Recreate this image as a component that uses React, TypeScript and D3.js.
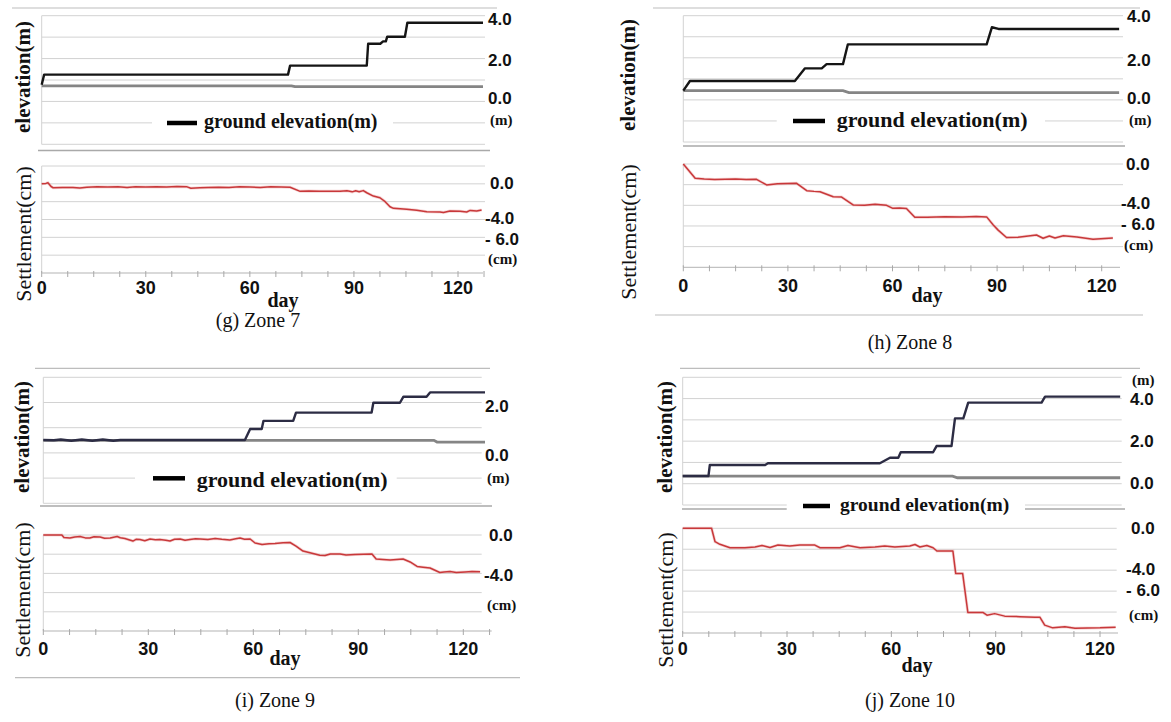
import React from "react";
import * as d3 from "d3";

type Pt = [number, number];
type Lab = [string, number];

const dayTickLabels = [0, 30, 60, 90, 120];
const legendText = "ground elevation(m)";

// ---------- Zone 7 ----------
const zone7Fill: Pt[] = [[0, 0.78], [0.7, 1.25], [71, 1.25], [71.6, 1.67], [93.7, 1.67], [94.1, 2.69], [97.6, 2.69], [98.4, 2.8], [99.2, 2.8], [99.6, 3.02], [104.7, 3.02], [105.4, 3.67], [127.2, 3.67]];
const zone7Ground: Pt[] = [[0, 0.73], [72, 0.73], [73, 0.69], [127.2, 0.69]];
const zone7Settlement: Pt[] = [[0, 0], [1.2, 0.05], [1.8, 0.12], [2.7, -0.3], [3.3, -0.44], [6, -0.4], [9, -0.42], [11, -0.46], [13, -0.38], [16, -0.34], [19, -0.36], [22, -0.33], [24.6, -0.4], [27, -0.33], [30, -0.35], [33, -0.32], [36, -0.36], [39, -0.31], [41.9, -0.34], [43, -0.5], [45.6, -0.44], [48, -0.4], [51, -0.37], [54, -0.4], [57, -0.34], [60, -0.36], [63, -0.4], [66, -0.33], [69, -0.36], [71.6, -0.38], [74.5, -0.84], [77, -0.8], [80, -0.84], [83, -0.82], [86, -0.84], [88, -0.78], [89.5, -0.9], [90.5, -0.78], [91.5, -0.88], [92.7, -0.76], [93.7, -1.0], [95.6, -1.37], [97.5, -1.56], [99, -2.0], [100.4, -2.57], [101.4, -2.75], [105.2, -2.86], [108.1, -2.97], [111, -3.13], [114.8, -3.16], [115.8, -3.22], [117.7, -3.05], [120.6, -3.08], [122.5, -3.16], [123.5, -2.98], [125.4, -3.05], [126.8, -2.94]];
const zone7ElevLabels: Lab[] = [["4.0", 3.8], ["2.0", 1.9], ["0.0", 0.12], ["(m)", -0.88]];
const zone7SettleLabels: Lab[] = [["0.0", 0], ["-4.0", -3.85], ["- 6.0", -6.2], ["(cm)", -8.4]];

// ---------- Zone 8 ----------
const zone8Fill: Pt[] = [[0, 0.44], [1.9, 0.9], [32, 0.9], [34.9, 1.5], [39.7, 1.5], [41.1, 1.7], [45.8, 1.7], [47.2, 2.64], [87, 2.64], [88.5, 3.45], [90.4, 3.37], [125, 3.37]];
const zone8Ground: Pt[] = [[0, 0.44], [45.8, 0.44], [47.5, 0.35], [125, 0.35]];
const zone8Settlement: Pt[] = [[0, 0], [1.5, -0.6], [3.4, -1.38], [6, -1.45], [9, -1.5], [12, -1.48], [15, -1.45], [18, -1.5], [21, -1.48], [23.9, -2.03], [27, -1.92], [30, -1.88], [32.5, -1.87], [35.4, -2.58], [37.5, -2.65], [39.2, -2.68], [43, -3.17], [45.4, -3.2], [48.8, -3.97], [52, -4.0], [55, -3.9], [58.3, -4.0], [60.1, -4.29], [62, -4.27], [64, -4.3], [66.4, -5.16], [70, -5.15], [75, -5.1], [80, -5.12], [84, -5.08], [87, -5.12], [88.9, -5.9], [90.3, -6.4], [92.7, -7.12], [96, -7.1], [101.3, -6.87], [103.2, -7.19], [105, -6.97], [106.6, -7.16], [109, -6.95], [112.9, -7.06], [117.5, -7.29], [123.2, -7.16]];
const zone8ElevLabels: Lab[] = [["4.0", 3.95], ["2.0", 1.85], ["0.0", 0.08], ["(m)", -0.95]];
const zone8SettleLabels: Lab[] = [["0.0", 0], ["-4.0", -3.85], ["- 6.0", -5.9], ["(cm)", -7.85]];

// ---------- Zone 9 ----------
const zone9Fill: Pt[] = [[0, 0.51], [3, 0.5], [5, 0.53], [8, 0.48], [11, 0.53], [14, 0.48], [17, 0.53], [20, 0.48], [22, 0.51], [57.6, 0.51], [59.1, 0.95], [62.4, 0.95], [62.9, 1.27], [71.4, 1.27], [72.2, 1.6], [93.8, 1.6], [94.3, 1.99], [101.9, 1.99], [102.9, 2.23], [109.5, 2.23], [110.5, 2.4], [126.2, 2.4]];
const zone9Ground: Pt[] = [[0, 0.5], [111.6, 0.5], [112.5, 0.43], [126.2, 0.43]];
const zone9Settlement: Pt[] = [[0, 0], [5.3, 0], [5.9, -0.26], [7.6, -0.31], [9, -0.2], [10.5, -0.16], [12, -0.3], [13.3, -0.31], [14.5, -0.18], [16.2, -0.2], [17.5, -0.34], [19.1, -0.31], [21.1, -0.16], [22, -0.28], [23.3, -0.36], [25.6, -0.63], [26.5, -0.45], [27.6, -0.47], [29, -0.6], [30.5, -0.42], [32, -0.5], [33.3, -0.47], [35, -0.55], [36.2, -0.63], [37.5, -0.45], [39.1, -0.42], [40.5, -0.55], [41.9, -0.47], [43.5, -0.4], [44.8, -0.42], [47, -0.48], [49.1, -0.36], [51, -0.45], [53.3, -0.52], [55, -0.4], [56.2, -0.31], [57.5, -0.45], [59.1, -0.42], [60.5, -0.83], [62.5, -0.99], [64.5, -0.9], [66.2, -0.89], [68.5, -0.8], [70.5, -0.78], [72.2, -1.15], [74.2, -1.67], [77.6, -1.98], [79, -2.1], [80.5, -2.14], [82, -1.98], [84.8, -1.98], [86.5, -2.08], [89.1, -2.03], [91.5, -2.0], [93.9, -1.98], [95.1, -2.5], [97, -2.55], [99.1, -2.6], [101, -2.55], [102.8, -2.5], [104.8, -2.81], [106.8, -3.28], [108.5, -3.35], [110.5, -3.44], [113.3, -3.91], [114.5, -3.85], [116.2, -3.8], [118, -3.9], [120.5, -3.85], [122.5, -3.8], [124.8, -3.82]];
const zone9ElevLabels: Lab[] = [["2.0", 1.85], ["0.0", -0.1], ["(m)", -1.0]];
const zone9SettleLabels: Lab[] = [["0.0", 0], ["-4.0", -4.2], ["(cm)", -7.3]];

// ---------- Zone 10 ----------
const zone10Fill: Pt[] = [[0, 0.36], [7.4, 0.36], [7.8, 0.88], [23.7, 0.88], [24.5, 0.96], [56.7, 0.96], [59.6, 1.22], [62, 1.22], [62.7, 1.48], [72, 1.48], [73, 1.77], [77.3, 1.77], [78.3, 3.07], [80.7, 3.07], [82.1, 3.81], [103.2, 3.81], [104.2, 4.09], [125.8, 4.09]];
const zone10Ground: Pt[] = [[0, 0.36], [77.6, 0.36], [79, 0.28], [125.8, 0.28]];
const zone10Settlement: Pt[] = [[0, 0], [8.3, 0], [9.3, -1.28], [10.7, -1.53], [13.6, -1.86], [17.9, -1.86], [20.8, -1.79], [22.8, -1.65], [25.1, -1.84], [27.4, -1.6], [30.8, -1.69], [33.7, -1.6], [38, -1.6], [39.5, -1.86], [45.2, -1.86], [47.5, -1.65], [51, -1.86], [55.3, -1.79], [58.1, -1.69], [61, -1.79], [65.3, -1.69], [66.8, -1.55], [68.2, -1.79], [70.2, -1.65], [72, -1.86], [73.1, -2.17], [77.7, -2.17], [78.5, -4.31], [80.5, -4.31], [82, -8.04], [86.3, -8.04], [87.5, -8.3], [89.7, -8.15], [92.6, -8.39], [97, -8.44], [101.3, -8.49], [102.7, -8.49], [104.1, -9.25], [106.4, -9.51], [109.9, -9.4], [112.8, -9.54], [120, -9.5], [124.5, -9.44]];
const zone10ElevLabels: Lab[] = [["(m)", 4.88], ["4.0", 3.95], ["2.0", 2.0], ["0.0", 0.0]];
const zone10SettleLabels: Lab[] = [["0.0", 0], ["-4.0", -3.9], ["- 6.0", -5.95], ["(cm)", -8.3]];

const captions = ["(g) Zone 7", "(h) Zone 8", "(i) Zone 9", "(j) Zone 10"];

// ---------- layout (positions / styles) ----------
const layouts = [
  {
    x0: 41.7, x120: 458, xEndDay: 127.5, gridRight: 485, eDomain: [-2, 4], eTop: 15.7, eBottom: 144.3,
    sDomain: [-10, 2], sTop: 166, sBottom: 273, sGridRight: 485, axisRight: 483,
    topLine: { y: 8, x1: 12, x2: 497 }, sep: { y: 150.5, x1: 38, x2: 490 }, bottomLine: null as any,
    labelX: 488, sLabelX: 490, titleX: 23, eTitleY: 77, sTitleY: 234, tickBaseline: 294,
    day: { x: 283, y: 307 }, caption: { x: 258, y: 327 },
    legend: { rx1: 152, rx2: 393, ry1: 115, ry2: 131, lx1: 167, lx2: 197, ly: 123, tx: 204, ty: 128, fs: 20 },
    elevColor: "#151515",
  },
  {
    x0: 683.3, x120: 1101.7, xEndDay: 125, gridRight: 1123, eDomain: [-2, 4], eTop: 15.7, eBottom: 142,
    sDomain: [-10, 0], sTop: 164, sBottom: 267.3, sGridRight: 1123, axisRight: 1120,
    topLine: { y: 8, x1: 653, x2: 1140 }, sep: { y: 146, x1: 683, x2: 1125 }, bottomLine: { y: 315, x1: 655, x2: 1143 },
    labelX: 1127, sLabelX: 1126, titleX: 628, eTitleY: 75, sTitleY: 232, tickBaseline: 292,
    day: { x: 927, y: 302 }, caption: { x: 910, y: 349 },
    legend: { rx1: 776.7, rx2: 1045, ry1: 112, ry2: 130, lx1: 793, lx2: 825, ly: 121, tx: 836.7, ty: 127, fs: 22 },
    elevColor: "#151515",
  },
  {
    x0: 43.3, x120: 463.3, xEndDay: 127.5, gridRight: 481.7, eDomain: [-2, 3], eTop: 377.3, eBottom: 503.3,
    sDomain: [-10, 0], sTop: 535, sBottom: 631, sGridRight: 481.7, axisRight: 491.7,
    topLine: { y: 368.3, x1: 35, x2: 490 }, sep: { y: 506, x1: 40, x2: 492 }, bottomLine: { y: 677.7, x1: 15, x2: 520 },
    labelX: 485, sLabelX: 489, titleX: 22, eTitleY: 437, sTitleY: 590, tickBaseline: 655,
    day: { x: 285, y: 665 }, caption: { x: 275, y: 707 },
    legend: { rx1: 135, rx2: 396.7, ry1: 470, ry2: 490, lx1: 153, lx2: 185, ly: 478.3, tx: 196.7, ty: 487, fs: 22 },
    elevColor: "#2c2c44",
  },
  {
    x0: 682.7, x120: 1100, xEndDay: 125, gridRight: 1121.7, eDomain: [-1, 5], eTop: 377.3, eBottom: 505,
    sDomain: [-10, 0], sTop: 528.3, sBottom: 633, sGridRight: 1116.7, axisRight: 1118,
    topLine: { y: 368.3, x1: 680, x2: 1140 }, sep: { y: 509, x1: 682, x2: 1125 }, bottomLine: null as any,
    labelX: 1130, sLabelX: 1131, titleX: 665, eTitleY: 437, sTitleY: 600, tickBaseline: 655,
    day: { x: 917, y: 672 }, caption: { x: 910, y: 707 },
    legend: { rx1: 786.7, rx2: 1025, ry1: 497, ry2: 516, lx1: 803, lx2: 830, ly: 506, tx: 840, ty: 511, fs: 19.5 },
    elevColor: "#2c2c44",
  },
];

const panelData = [
  { fill: zone7Fill, ground: zone7Ground, settle: zone7Settlement, eLabels: zone7ElevLabels, sLabels: zone7SettleLabels },
  { fill: zone8Fill, ground: zone8Ground, settle: zone8Settlement, eLabels: zone8ElevLabels, sLabels: zone8SettleLabels },
  { fill: zone9Fill, ground: zone9Ground, settle: zone9Settlement, eLabels: zone9ElevLabels, sLabels: zone9SettleLabels },
  { fill: zone10Fill, ground: zone10Ground, settle: zone10Settlement, eLabels: zone10ElevLabels, sLabels: zone10SettleLabels },
];

const SANS = "'Liberation Sans', Arial, 'Noto Sans', sans-serif";
const SERIF = "'Liberation Serif', 'DejaVu Serif', 'Times New Roman', serif";
const GRID = "#d2d2d2";
const SEP = "#a9a9a9";

function labelDx(t: string) {
  if (t.startsWith("-")) return -5;
  return 0;
}

function Panel({ L, D, caption }: { L: any; D: any; caption: string }) {
  const x = d3.scaleLinear().domain([0, 120]).range([L.x0, L.x120]);
  const ye = d3.scaleLinear().domain(L.eDomain).range([L.eBottom, L.eTop]);
  const ys = d3.scaleLinear().domain(L.sDomain).range([L.sBottom, L.sTop]);
  const lineE = d3.line<Pt>().x((d) => x(d[0])).y((d) => ye(d[1]));
  const lineS = d3.line<Pt>().x((d) => x(d[0])).y((d) => ys(d[1]));
  const eGrid = d3.range(L.eDomain[0], L.eDomain[1] + 0.001, 1);
  const sGrid = d3.range(L.sDomain[0] + 2, L.sDomain[1] + 0.001, 2);
  const minor = d3.range(0, L.xEndDay + 0.01, 7.5);
  const lg = L.legend;
  const isUnit = (t: string) => t.startsWith("(");
  return (
    <g>
      <line x1={L.topLine.x1} x2={L.topLine.x2} y1={L.topLine.y} y2={L.topLine.y} stroke="#bdbdbd" strokeWidth={1.2} />
      {L.bottomLine && (
        <line x1={L.bottomLine.x1} x2={L.bottomLine.x2} y1={L.bottomLine.y} y2={L.bottomLine.y} stroke="#bdbdbd" strokeWidth={1.2} />
      )}
      {eGrid.map((v) => (
        <line key={"eg" + v} x1={L.x0} x2={L.gridRight} y1={ye(v)} y2={ye(v)} stroke={GRID} strokeWidth={1} />
      ))}
      <line x1={L.x0} x2={L.x0} y1={ye(L.eDomain[1])} y2={ye(L.eDomain[0])} stroke={GRID} strokeWidth={1} />
      <line x1={L.sep.x1} x2={L.sep.x2} y1={L.sep.y} y2={L.sep.y} stroke={SEP} strokeWidth={1.4} />
      <rect x={lg.rx1} y={lg.ry1} width={lg.rx2 - lg.rx1} height={lg.ry2 - lg.ry1} fill="#fff" />
      <line x1={lg.lx1} x2={lg.lx2} y1={lg.ly} y2={lg.ly} stroke="#000" strokeWidth={4.5} />
      <text x={lg.tx} y={lg.ty} fontFamily={SERIF} fontWeight="bold" fontSize={lg.fs} fill="#111">
        {legendText}
      </text>
      <path d={lineE(D.ground) || ""} fill="none" stroke="#858585" strokeWidth={2.8} />
      <path d={lineE(D.fill) || ""} fill="none" stroke={L.elevColor} strokeWidth={2.4} strokeLinejoin="round" />
      {D.eLabels.map((l: Lab) => (
        <text
          key={"el" + l[0]}
          x={L.labelX + labelDx(l[0]) + (isUnit(l[0]) ? 2 : 0)}
          y={ye(l[1])}
          dominantBaseline="central"
          fontFamily={isUnit(l[0]) ? SERIF : SANS}
          fontWeight="bold"
          fontSize={isUnit(l[0]) ? 15 : 17}
          fill="#111"
        >
          {l[0]}
        </text>
      ))}
      {sGrid.map((v) => (
        <line key={"sg" + v} x1={L.x0} x2={L.sGridRight} y1={ys(v)} y2={ys(v)} stroke={GRID} strokeWidth={1} />
      ))}
      <line x1={L.x0} x2={L.x0} y1={ys(L.sDomain[1])} y2={ys(L.sDomain[0])} stroke={GRID} strokeWidth={1} />
      <line x1={L.x0} x2={L.axisRight} y1={ys(L.sDomain[0])} y2={ys(L.sDomain[0])} stroke="#b3b3b3" strokeWidth={1} />
      {minor.map((t) => (
        <line key={"mt" + t} x1={x(t)} x2={x(t)} y1={ys(L.sDomain[0]) - 2} y2={ys(L.sDomain[0]) + 4} stroke="#a8a8a8" strokeWidth={1} />
      ))}
      {dayTickLabels.map((t) => (
        <text key={"xt" + t} x={x(t)} y={L.tickBaseline} textAnchor="middle" fontFamily={SANS} fontWeight="bold" fontSize={18} fill="#111">
          {t}
        </text>
      ))}
      <text x={L.day.x} y={L.day.y} textAnchor="middle" fontFamily={SERIF} fontWeight="bold" fontSize={20} fill="#111">
        day
      </text>
      <path d={lineS(D.settle) || ""} fill="none" stroke="#eaa5a5" strokeWidth={3} opacity={0.45} />
      <path d={lineS(D.settle) || ""} fill="none" stroke="#c8383a" strokeWidth={1.5} strokeLinejoin="round" />
      {D.sLabels.map((l: Lab) => (
        <text
          key={"sl" + l[0]}
          x={L.sLabelX + labelDx(l[0]) + (isUnit(l[0]) ? -2 : 0)}
          y={ys(l[1])}
          dominantBaseline="central"
          fontFamily={isUnit(l[0]) ? SERIF : SANS}
          fontWeight="bold"
          fontSize={isUnit(l[0]) ? 15 : 17}
          fill="#111"
        >
          {l[0]}
        </text>
      ))}
      <text
        transform={`translate(${L.titleX},${L.eTitleY}) rotate(-90)`}
        textAnchor="middle"
        dominantBaseline="central"
        fontFamily={SERIF}
        fontWeight="bold"
        fontSize={21}
        fill="#111"
      >
        elevation(m)
      </text>
      <text
        transform={`translate(${L.titleX},${L.sTitleY}) rotate(-90)`}
        textAnchor="middle"
        dominantBaseline="central"
        fontFamily={SERIF}
        fontSize={22}
        fill="#111"
      >
        Settlement(cm)
      </text>
      <text x={L.caption.x} y={L.caption.y} textAnchor="middle" fontFamily={SERIF} fontSize={20} fill="#111">
        {caption}
      </text>
    </g>
  );
}

export default function App() {
  return (
    <svg
      width={1171}
      height={722}
      viewBox="0 0 1171 722"
      style={{ position: "absolute", left: 0, top: 0, background: "#fff" }}
    >
      <rect x={0} y={0} width={1171} height={722} fill="#fff" />
      {layouts.map((L, i) => (
        <Panel key={i} L={L} D={panelData[i]} caption={captions[i]} />
      ))}
    </svg>
  );
}
